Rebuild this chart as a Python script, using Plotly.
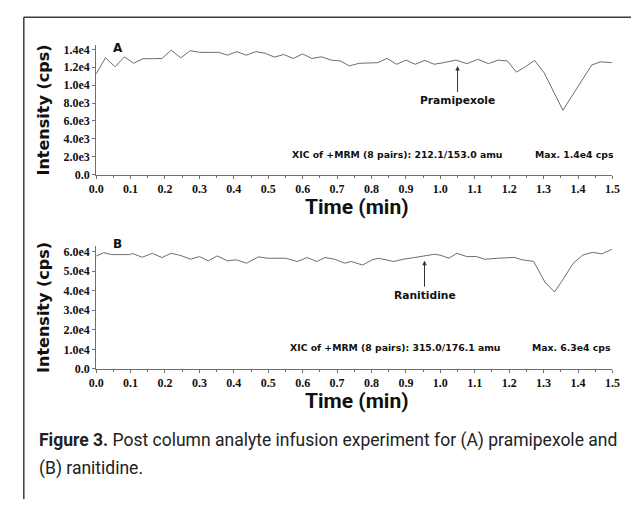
import plotly.graph_objects as go

# ---------------- data ----------------
time_a = [0.000, 0.027, 0.055, 0.082, 0.109, 0.136, 0.164, 0.191, 0.218, 0.246,
          0.273, 0.300, 0.327, 0.355, 0.382, 0.409, 0.436, 0.464, 0.491, 0.518,
          0.545, 0.573, 0.600, 0.627, 0.655, 0.682, 0.709, 0.736, 0.764, 0.791,
          0.818, 0.845, 0.873, 0.900, 0.927, 0.955, 0.982, 1.009, 1.045, 1.077,
          1.109, 1.140, 1.168, 1.195, 1.221, 1.248, 1.274, 1.302, 1.356, 1.440,
          1.465, 1.498]
intensity_a = [11250, 13050, 12050, 13150, 12450, 12950, 12960, 12980, 13900, 13050,
               13850, 13670, 13660, 13670, 13350, 13740, 13350, 13740, 13560, 13130,
               13420, 12980, 13490, 12980, 13170, 12800, 12700, 12150, 12440, 12460,
               12510, 12990, 12330, 12800, 12330, 12770, 12330, 12510, 12800, 12400,
               12880, 12400, 12800, 12700, 11450, 12080, 12760, 11350, 7200, 12250,
               12600, 12520]

time_b = [0.000, 0.022, 0.045, 0.097, 0.106, 0.134, 0.163, 0.191, 0.218, 0.243,
          0.275, 0.300, 0.326, 0.352, 0.381, 0.407, 0.437, 0.471, 0.499, 0.551,
          0.584, 0.613, 0.641, 0.665, 0.693, 0.722, 0.741, 0.755, 0.774, 0.802,
          0.821, 0.864, 0.892, 0.925, 0.954, 0.982, 1.001, 1.025, 1.048, 1.077,
          1.105, 1.129, 1.167, 1.214, 1.238, 1.271, 1.304, 1.332, 1.356, 1.386,
          1.414, 1.442, 1.469, 1.498]
intensity_b = [57700, 59400, 58440, 58440, 58950, 57080, 59100, 56925, 59100, 58095,
               56060, 57430, 55250, 57770, 55250, 55760, 54040, 57260, 56570, 56570,
               54900, 56925, 54900, 56925, 56060, 54040, 54900, 54300, 53100, 55760,
               56570, 54900, 56060, 56925, 57770, 58600, 58090, 56570, 59100, 57430,
               57430, 56060, 56570, 57000, 55760, 54950, 44300, 39300, 45650, 54000,
               58200, 59600, 58800, 61100]

x_tick_vals = [0.0, 0.1, 0.2, 0.3, 0.4, 0.5, 0.6, 0.7, 0.8, 0.9, 1.0, 1.1, 1.2, 1.3, 1.4, 1.5]
x_tick_text = ["0.0", "0.1", "0.2", "0.3", "0.4", "0.5", "0.6", "0.7",
               "0.8", "0.9", "1.0", "1.1", "1.2", "1.3", "1.4", "1.5"]
y_tick_vals_a = [0, 2000, 4000, 6000, 8000, 10000, 12000, 14000]
y_tick_text_a = ["0.0", "2.0e3", "4.0e3", "6.0e3", "8.0e3", "1.0e4", "1.2e4", "1.4e4"]
y_tick_vals_b = [0, 10000, 20000, 30000, 40000, 50000, 60000]
y_tick_text_b = ["0.0", "1.0e4", "2.0e4", "3.0e4", "4.0e4", "5.0e4", "6.0e4"]

# ---------------- layout helpers ----------------
# the page body has an 8px default margin, so the figure is sized/placed to compensate
OFF = 8
W, H = 631, 498


def px(x):
    return (x - OFF) / W


def py(y):
    return 1 - (y - OFF) / H


LINE_COLOR = "#6e6e6e"
AXIS_COLOR = "#707070"
TXT = "#111111"
BOLD_SANS = "DejaVu Sans"
COND = "Roboto"
TICK_FONT = dict(family="Liberation Serif", size=12, color=TXT, weight="bold")

fig = go.Figure()
fig.add_trace(go.Scatter(x=time_a, y=intensity_a, mode="lines",
                         line=dict(color=LINE_COLOR, width=1),
                         xaxis="x", yaxis="y", showlegend=False, hoverinfo="skip"))
fig.add_trace(go.Scatter(x=time_b, y=intensity_b, mode="lines",
                         line=dict(color=LINE_COLOR, width=1),
                         xaxis="x2", yaxis="y2", showlegend=False, hoverinfo="skip"))

xaxis_common = dict(
    range=[0, 1.5], domain=[px(91), px(619)],
    showgrid=False, zeroline=False, showline=True, linecolor=AXIS_COLOR, linewidth=1,
    ticks="outside", ticklen=3, tickcolor=AXIS_COLOR, tickwidth=1,
    tickvals=x_tick_vals, ticktext=x_tick_text, tickfont=TICK_FONT,
    minor=dict(ticks="outside", ticklen=2, tickcolor=AXIS_COLOR, dtick=0.05, showgrid=False),
    fixedrange=True,
)
yaxis_common = dict(
    showgrid=False, zeroline=False, showline=True, linecolor=AXIS_COLOR, linewidth=1,
    ticks="outside", ticklen=3, tickcolor=AXIS_COLOR, tickwidth=1,
    tickfont=TICK_FONT, fixedrange=True,
)

fig.update_layout(
    width=W, height=H, autosize=False,
    margin=dict(l=0, r=0, t=0, b=0, pad=0),
    paper_bgcolor="white", plot_bgcolor="white",
    xaxis=dict(anchor="y", **xaxis_common),
    xaxis2=dict(anchor="y2", **xaxis_common),
    yaxis=dict(anchor="x", range=[0, 14500], domain=[py(175.7), py(43.5)],
               tickvals=y_tick_vals_a, ticktext=y_tick_text_a, **yaxis_common),
    yaxis2=dict(anchor="x2", range=[0, 63000], domain=[py(373.5), py(248)],
                tickvals=y_tick_vals_b, ticktext=y_tick_text_b, **yaxis_common),
)

# frame lines (top and left)
fig.add_shape(type="line", xref="paper", yref="paper", x0=px(17), x1=1, y0=py(15.5), y1=py(15.5),
              line=dict(color="#3c3c3c", width=1.5))
fig.add_shape(type="line", xref="paper", yref="paper", x0=px(17), x1=px(17), y0=py(15.5), y1=0,
              line=dict(color="#3c3c3c", width=1.5))

ann = []
# y-axis titles
for yc in (110, 311):
    ann.append(dict(text="Intensity (cps)", x=px(37), y=py(yc), xref="paper", yref="paper",
                    textangle=-90, showarrow=False, xanchor="center", yanchor="middle",
                    font=dict(family=BOLD_SANS, size=16, color=TXT, weight="bold")))
# x-axis titles
for yc in (208.5, 406.5):
    ann.append(dict(text="Time (min)", x=px(358), y=py(yc), xref="paper", yref="paper",
                    showarrow=False, xanchor="center", yanchor="middle",
                    font=dict(family=COND, size=21, color=TXT, weight="bold")))
# panel letters
ann.append(dict(text="A", x=px(113), y=py(47), xref="paper", yref="paper", showarrow=False,
                xanchor="center", yanchor="middle",
                font=dict(family=BOLD_SANS, size=12, color=TXT, weight="bold")))
ann.append(dict(text="B", x=px(113), y=py(246), xref="paper", yref="paper", showarrow=False,
                xanchor="center", yanchor="middle",
                font=dict(family=BOLD_SANS, size=12, color=TXT, weight="bold")))
# XIC / Max texts
small = dict(family=BOLD_SANS, size=9.3, color=TXT, weight="bold")
ann.append(dict(text="XIC of +MRM (8 pairs): 212.1/153.0 amu", x=px(289), y=py(155),
                xref="paper", yref="paper", showarrow=False, xanchor="left", yanchor="middle", font=small))
ann.append(dict(text="Max. 1.4e4 cps", x=px(623), y=py(155),
                xref="paper", yref="paper", showarrow=False, xanchor="right", yanchor="middle", font=small))
ann.append(dict(text="XIC of +MRM (8 pairs): 315.0/176.1 amu", x=px(287), y=py(352),
                xref="paper", yref="paper", showarrow=False, xanchor="left", yanchor="middle", font=small))
ann.append(dict(text="Max. 6.3e4 cps", x=px(619.5), y=py(352),
                xref="paper", yref="paper", showarrow=False, xanchor="right", yanchor="middle", font=small))
# analyte arrows
lab = dict(family=BOLD_SANS, size=10.7, color=TXT, weight="bold")
ann.append(dict(text="Pramipexole", x=1.05, y=12150, xref="x", yref="y", showarrow=True,
                ax=0, ay=35, arrowhead=2, arrowsize=0.9, arrowwidth=1, arrowcolor="#333",
                standoff=0, startstandoff=1, font=lab))
ann.append(dict(text="Ranitidine", x=0.954, y=55300, xref="x2", yref="y2", showarrow=True,
                ax=0, ay=35, arrowhead=2, arrowsize=0.9, arrowwidth=1, arrowcolor="#333",
                standoff=0, startstandoff=1, font=lab))
# caption
cap_font = dict(family=COND, size=17.5, color="#222")
ann.append(dict(text="<b>Figure 3.</b> Post column analyte infusion experiment for (A) pramipexole and",
                x=px(31), y=py(446), xref="paper", yref="paper", showarrow=False,
                xanchor="left", yanchor="middle", font=cap_font))
ann.append(dict(text="(B) ranitidine.", x=px(31), y=py(475), xref="paper", yref="paper",
                showarrow=False, xanchor="left", yanchor="middle", font=cap_font))

fig.update_layout(annotations=ann)
fig.write_html("out.html")
